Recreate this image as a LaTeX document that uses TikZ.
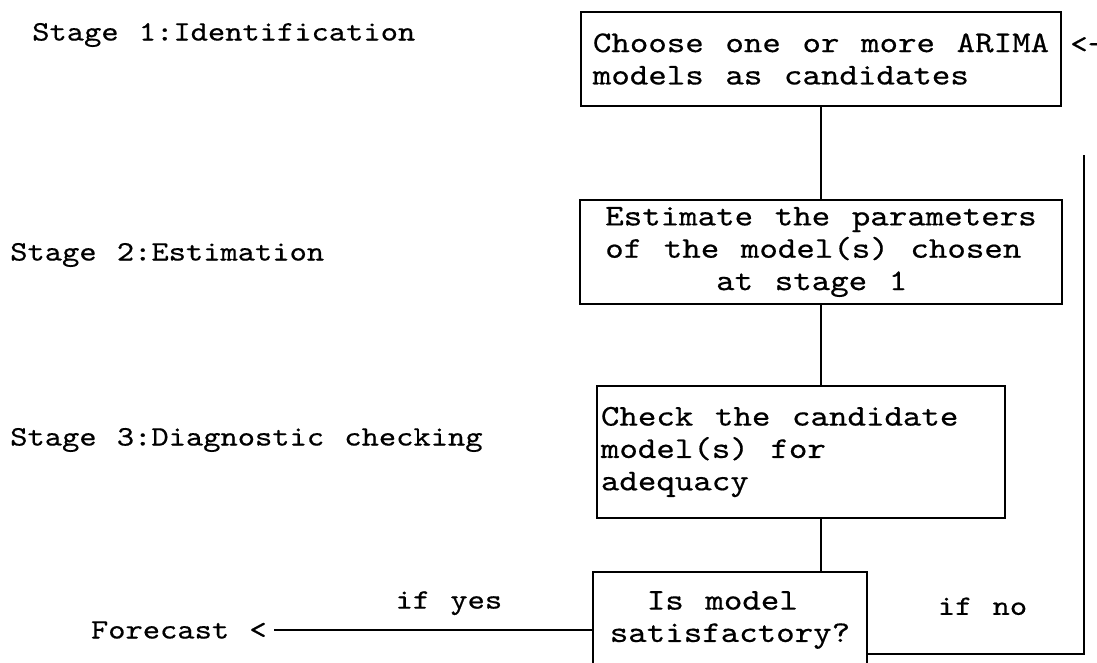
\documentclass[tikz,border=0pt]{standalone}
\usepackage{fontspec}
\setmonofont[FakeStretch=1.17, WordSpace={1.17,0,0}, FakeBold=0.5]{lmmono10-regular.otf}
\usetikzlibrary{positioning}

\begin{document}
\begin{tikzpicture}[
  x=0.025cm, y=-0.025cm,
  lbl/.style={font=\fontsize{20}{23}\selectfont\ttfamily, inner sep=0pt},
  box/.style={draw, line width=1.4pt, align=left,
              font=\fontsize{21.4}{23}\selectfont\ttfamily},
  link/.style={line width=1.4pt},
]
  \useasboundingbox (0,0) rectangle (1097,663);

  % === Stage labels ===
  \node[lbl, anchor=west] (st1) at (32,35)  {Stage 1:Identification};
  \node[lbl, anchor=west] (st2) at (10,255) {Stage 2:Estimation};
  \node[lbl, anchor=west] (st3) at (10,440) {Stage 3:Diagnostic checking};

  % === Boxes ===
  \node[box, minimum width=12cm, minimum height=2.35cm] (ident) at (821,59)
    {Choose one or more ARIMA\\models as candidates};
  \node[box, minimum width=12.025cm, minimum height=2.6cm] (estim) at (821,252)
    {Estimate the parameters\\of the model(s) chosen\\\hphantom{xxxxxx}at stage 1};
  \node[box, align=flush left, text width=10cm, inner xsep=0.1cm,
        minimum height=3.3cm] (diag) at (801,452)
    {Check the candidate\\model(s) for\\adequacy};
  \node[box, minimum width=6.85cm, minimum height=2.4cm] (sat) at (730,620)
    {\hphantom{xx}Is model\\satisfactory?};

  % === Connectors ===
  \draw[link] (ident) -- (estim);
  \draw[link] (estim.south) -- (estim.south |- diag.north);
  \draw[link] (estim.south |- diag.south) -- (estim.south |- sat.north);

  % if yes
  \node[lbl, anchor=east, inner xsep=5pt] (fcast) at (274,630) {Forecast <};
  \draw[link] (sat.west |- fcast.east) --
    node[lbl, pos=0.45, above=0.35cm] (yes) {if yes} (fcast.east);

  % if no, back to stage 1
  \coordinate (loop) at (1084,155);
  \draw[link] ([yshift=-0.85cm]sat.east) --
    node[lbl, pos=0.53, above=0.95cm] (no) {if no}
    ([yshift=-0.85cm]sat.east -| loop) -- (loop);
  \node[lbl, anchor=west] (back) at ([xshift=0.2cm, yshift=0.35cm]ident.east) {<-};

\end{tikzpicture}
\end{document}
